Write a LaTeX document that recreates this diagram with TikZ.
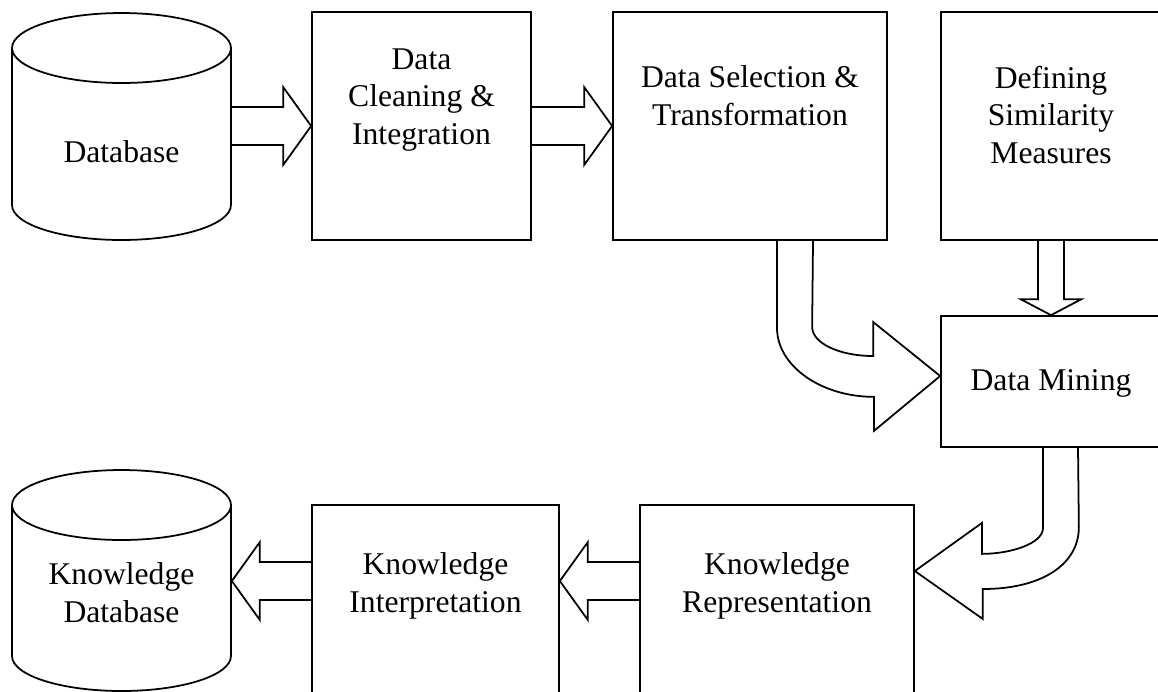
\documentclass[tikz,border=0pt]{standalone}
\usepackage{fontspec}
\setmainfont{Liberation Serif}
\usetikzlibrary{calc}

% hollow block arrow: shaft half width, head half width, head length, from, tip
\newcommand{\fatarrow}[5]{%
  \draw ($(#4)!#1!-90:(#5)$) -- ($(#5)!#3!(#4)!#1!90:(#4)$)
    -- ($(#5)!#3!(#4)!#2!90:(#4)$) -- (#5)
    -- ($(#5)!#3!(#4)!#2!-90:(#4)$) -- ($(#5)!#3!(#4)!#1!-90:(#4)$)
    -- ($(#4)!#1!90:(#5)$);}

\tikzset{
  box/.style={draw, inner sep=0pt},
  txt/.style={align=center, font=\fontsize{18pt}{21.5pt}\selectfont}
}

\begin{document}
\begin{tikzpicture}[x=0.02cm, y=-0.02cm, line width=1pt]
\useasboundingbox (0,0) rectangle (1158,691);
\clip (0,0) rectangle (1158,691);
% top row
\node [txt, minimum width=4.38cm] (db) at (121.5,152) {Database};
\draw (12,48) -- (12,205) arc [start angle=180, end angle=360, x radius=2.19cm, y radius=0.7cm] -- (231,48);
\draw (121.5,48) ellipse [x radius=2.19cm, y radius=0.7cm];
\node [box, minimum width=4.38cm, minimum height=4.56cm] (clean) at (421.5,126) {};
\node [txt] (cleantxt) at (421.5,100) {Data\\Cleaning \&\\Integration};
\node [box, minimum width=5.48cm, minimum height=4.56cm] (sel) at (750,126) {};
\node [txt] (seltxt) at (750,96) {Data Selection \&\\Transformation};
\node [box, minimum width=4.4cm, minimum height=4.56cm] (def) at (1051,126) {};
\node [txt] (deftxt) at (1051,115) {Defining\\Similarity\\Measures};
% middle
\node [box, minimum width=4.4cm, minimum height=2.62cm] (mine) at (1051,381.5) {};
\node [txt] (minetxt) at (1051,383) {Data Mining};
% bottom row
\coordinate (row) at (0,581);
\node [box, minimum width=5.48cm, minimum height=5.1cm] (repr) at (777,632.5) {};
\node [txt] (reprtxt) at (777,586) {Knowledge\\Representation};
\node [box, minimum width=4.94cm, minimum height=5.1cm] (interp) at (435.5,632.5) {};
\node [txt] (interptxt) at (435.5,586) {Knowledge\\Interpretation};
\node [txt, minimum width=4.38cm] (kdb) at (121.5,593) {Knowledge\\Database};
\draw (12,505) -- (12,656) arc [start angle=180, end angle=360, x radius=2.19cm, y radius=0.7cm] -- (231,505);
\draw (121.5,505) ellipse [x radius=2.19cm, y radius=0.7cm];
% straight arrows
\fatarrow{0.38cm}{0.78cm}{0.56cm}{db.east |- clean.west}{clean.west}
\fatarrow{0.38cm}{0.78cm}{0.56cm}{clean.east}{sel.west}
\fatarrow{0.26cm}{0.61cm}{0.32cm}{def.south}{mine.north}
\fatarrow{0.38cm}{0.78cm}{0.56cm}{repr.west |- row}{interp.east |- row}
\fatarrow{0.38cm}{0.78cm}{0.56cm}{interp.west |- row}{kdb.east |- row}
% bent arrows
\draw ($(sel.south)+(27,0)$) -- ++(0,87) .. controls +(0,38) and +(-53,0) .. ++(97,69)
  -- ++(0,34) -- ([yshift=0.11cm]mine.west) -- ++(-67,-54) -- ++(0,34)
  .. controls +(-34,0) and +(0,16) .. ++(-61,-29) -- ($(sel.south)+(63,0)$);
\draw ($(mine.south)+(-8,0)$) -- ++(0,80) .. controls +(0,16) and +(28,0) .. ++(-61,26)
  -- ++(0,-31) -- (repr.east |- 0,571) -- ++(68,48) -- ++(0,-30)
  .. controls +(58,0) and +(0,38) .. ++(96,-62) -- ($(mine.south)+(27,0)$);
\end{tikzpicture}
\end{document}
